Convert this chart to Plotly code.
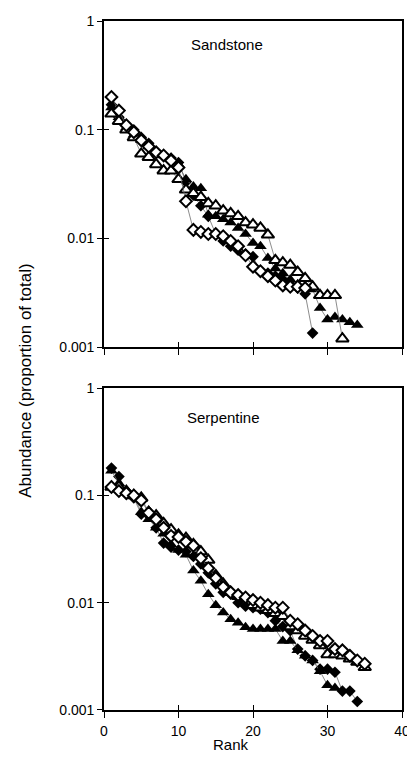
import plotly.graph_objects as go

# ---------------- data ----------------
# Sandstone panel
sand_fd = [0.17, 0.13, 0.11, 0.10, 0.085, 0.075, 0.062, 0.058, 0.055, 0.05, 0.033, 0.025, 0.02, 0.016,
           0.011, 0.0095, 0.0085, 0.0078, 0.0072, 0.0068, 0.005, 0.0048, 0.0045, 0.0042, 0.0038, 0.0035,
           0.0031, 0.00135]
sand_od = [0.20, 0.15, 0.11, 0.095, 0.08, 0.07, 0.062, 0.058, 0.052, 0.045, 0.022, 0.012, 0.0115, 0.011,
           0.011, 0.0105, 0.0095, 0.0085, 0.007, 0.0055, 0.005, 0.0045, 0.0041, 0.0037, 0.0036, 0.0036,
           0.0035]
sand_ft = [0.16, 0.13, 0.105, 0.09, 0.08, 0.07, 0.06, 0.058, 0.055, 0.048, 0.035, 0.030, 0.029, 0.0165,
           0.016, 0.015, 0.014, 0.0125, 0.011, 0.0091, 0.0085, 0.0066, 0.0053, 0.0048, 0.0042, 0.0038,
           0.0036, 0.0034, 0.0023, 0.0018, 0.0019, 0.0018, 0.0017, 0.0016]
sand_ot = [0.14, 0.12, 0.10, 0.085, 0.06, 0.056, 0.048, 0.042, 0.042, 0.035, 0.028, 0.026, 0.024, 0.021,
           0.02, 0.018, 0.017, 0.016, 0.014, 0.0134, 0.0125, 0.0108, 0.0063, 0.006, 0.0057, 0.0049,
           0.0043, 0.0036, 0.003, 0.003, 0.003, 0.0012]

# Serpentine panel
serp_fd = [0.18, 0.15, 0.11, 0.095, 0.067, 0.065, 0.05, 0.036, 0.033, 0.031, 0.03, 0.027, 0.023, 0.019,
           0.015, 0.0125, 0.012, 0.010, 0.0093, 0.009, 0.0087, 0.0081, 0.0068, 0.006, 0.0055, 0.0037,
           0.0032, 0.0029, 0.0024, 0.0024, 0.00225, 0.0015, 0.0015, 0.0012]
serp_od = [0.12, 0.11, 0.105, 0.10, 0.09, 0.069, 0.06, 0.05, 0.042, 0.041, 0.037, 0.034, 0.026, 0.021,
           0.017, 0.014, 0.0125, 0.0118, 0.0112, 0.0106, 0.0100, 0.0095, 0.009, 0.009, 0.0068, 0.0063,
           0.0055, 0.0049, 0.0044, 0.0044, 0.0037, 0.0036, 0.0032, 0.0029, 0.0027]
serp_ft = [0.17, 0.13, 0.11, 0.10, 0.07, 0.06, 0.05, 0.044, 0.035, 0.031, 0.028, 0.02, 0.016, 0.012,
           0.0095, 0.0081, 0.007, 0.0065, 0.0059, 0.0057, 0.0057, 0.0057, 0.0057, 0.0044, 0.0044,
           0.0036, 0.0032, 0.0029, 0.0023, 0.0017, 0.0016]
serp_ot = [0.12, 0.12, 0.11, 0.10, 0.095, 0.07, 0.065, 0.055, 0.048, 0.043, 0.04, 0.035, 0.03, 0.025,
           0.018, 0.015, 0.0125, 0.0115, 0.011, 0.0095, 0.0090, 0.0085, 0.008, 0.0075, 0.006, 0.0055,
           0.0049, 0.0045, 0.004, 0.0033, 0.0033, 0.0032, 0.003, 0.0028, 0.0025]

panel_titles = ["Sandstone", "Serpentine"]
y_tickvals = [0.001, 0.01, 0.1, 1]
y_ticktext = ["0.001", "0.01", "0.1", "1"]
x_tickvals = [0, 10, 20, 30, 40]

# ---------------- figure ----------------
FONT = "Liberation Sans, Arial, sans-serif"
fig = go.Figure()

styles = [
    ("diamond", "black", "black"),
    ("triangle-up", "black", "black"),
    ("triangle-up", "white", "black"),
    ("diamond", "white", "black"),
]

panels = [
    ("x", "y", [sand_fd, sand_ft, sand_ot, sand_od]),
    ("x2", "y2", [serp_fd, serp_ft, serp_ot, serp_od]),
]

for xa, ya, series in panels:
    for vals, (sym, fill, edge) in zip(series, styles):
        ranks = list(range(1, len(vals) + 1))
        fig.add_trace(go.Scatter(
            x=ranks, y=vals, xaxis=xa, yaxis=ya, mode="lines+markers",
            line=dict(color="#6e6e6e", width=0.8),
            marker=dict(symbol=sym, size=9 if sym == "diamond" else 11, color=fill,
                        line=dict(color=edge, width=2 if fill == "white" else 0)),
            showlegend=False, hoverinfo="skip",
        ))

# dummy traces for overlay axes (inside tick marks so ticks cross the axis line)
fig.add_trace(go.Scatter(x=[None], y=[None], xaxis="x3", yaxis="y3", showlegend=False))
fig.add_trace(go.Scatter(x=[None], y=[None], xaxis="x4", yaxis="y4", showlegend=False))

top_dom = [0.5265, 1.0]
bot_dom = [0.0, 0.467]

common_y = dict(type="log", range=[-3, 0], tickvals=y_tickvals, ticktext=y_ticktext,
                showline=True, linecolor="black", linewidth=1.6, mirror=True,
                ticks="outside", ticklen=5, tickwidth=1.4, tickcolor="black",
                showgrid=False, zeroline=False,
                tickfont=dict(family=FONT, size=14, color="black"))
common_x = dict(range=[0, 40], tickvals=x_tickvals,
                showline=True, linecolor="black", linewidth=1.6, mirror=True,
                ticks="outside", ticklen=6, tickwidth=1.4, tickcolor="black",
                ticklabelstandoff=1, ticklabeloverflow="allow",
                showgrid=False, zeroline=False,
                tickfont=dict(family=FONT, size=14, color="black"))

overlay_common = dict(ticks="inside", ticklen=5, tickwidth=1.4, tickcolor="black",
                      showticklabels=False, showgrid=False, zeroline=False, showline=False)

# the page body has an 8px margin, so the figure is offset by 8px
fig.update_layout(
    width=407, height=753,
    margin=dict(l=96, r=10, t=5, b=51),
    paper_bgcolor="white", plot_bgcolor="white",
    xaxis=dict(**common_x, anchor="y", showticklabels=False),
    yaxis=dict(**common_y, anchor="x", domain=top_dom),
    xaxis2=dict(**common_x, anchor="y2", showticklabels=True),
    yaxis2=dict(**common_y, anchor="x2", domain=bot_dom),
    xaxis3=dict(range=[0, 40], tickvals=x_tickvals, overlaying="x", anchor="y3", **overlay_common),
    yaxis3=dict(type="log", range=[-3, 0], tickvals=y_tickvals, overlaying="y", anchor="x3",
                **overlay_common),
    xaxis4=dict(range=[0, 40], tickvals=x_tickvals, overlaying="x2", anchor="y4", **overlay_common),
    yaxis4=dict(type="log", range=[-3, 0], tickvals=y_tickvals, overlaying="y2", anchor="x4",
                **overlay_common),
    font=dict(family=FONT, color="black"),
)

fig.add_annotation(text=panel_titles[0], x=16.5, y=-0.22, xref="x", yref="y",
                   showarrow=False, font=dict(family=FONT, size=15, color="black"))
fig.add_annotation(text=panel_titles[1], x=16.0, y=-0.27, xref="x2", yref="y2",
                   showarrow=False, font=dict(family=FONT, size=15, color="black"))
fig.add_annotation(text="Abundance (proportion of total)", textangle=-90,
                   x=-0.30, y=0.478, xref="paper", yref="paper", showarrow=False,
                   font=dict(family=FONT, size=17, color="black"))
fig.add_annotation(text="Rank", x=0.425, y=-0.066, xref="paper", yref="paper",
                   showarrow=False, font=dict(family=FONT, size=15, color="black"))

fig.write_html("out.html")
